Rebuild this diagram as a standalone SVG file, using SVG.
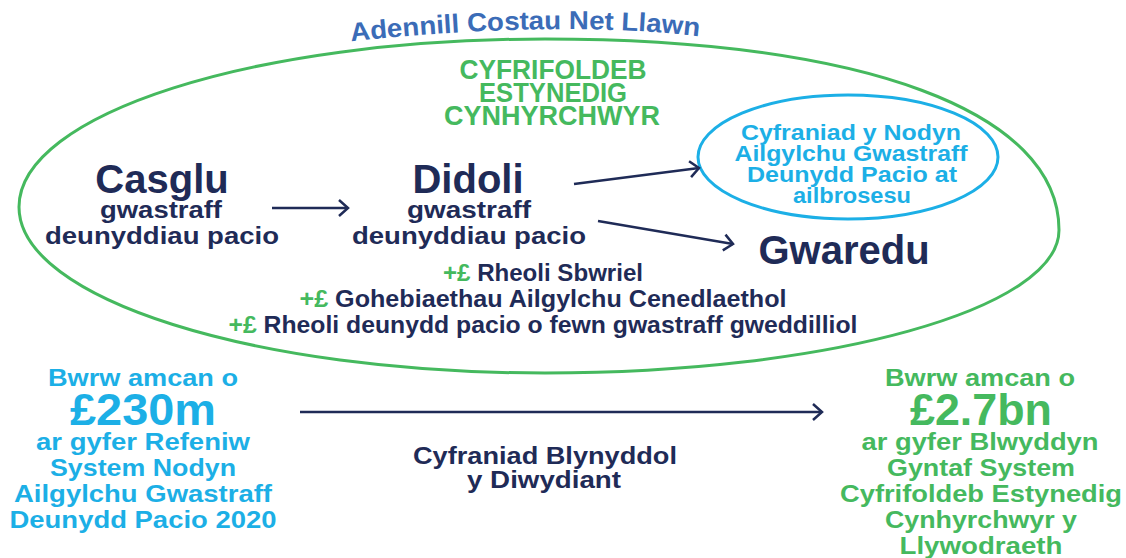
<svg xmlns="http://www.w3.org/2000/svg" width="1126" height="558" viewBox="0 0 1126 558">
<style>
text{font-family:"Liberation Sans",Arial,sans-serif;font-weight:bold;text-anchor:middle}
.navy{fill:#1f2b57}
.green{fill:#45b95e}
.blue{fill:#1cafe6}
.title{fill:#3b6cb7}
.conn{stroke:#1f2b57;stroke-width:2.5;fill:none}
</style>
<defs>
<marker id="chev" markerUnits="userSpaceOnUse" markerWidth="14" markerHeight="20" viewBox="0 0 14 20" refX="11" refY="10" orient="auto">
<path d="M2,2 L11,10 L2,18" fill="none" stroke="#1f2b57" stroke-width="2.5"/>
</marker>
<path id="arc" d="M 345 42 Q 560 19 705 37"/>
</defs>
<g id="outer">
<path d="M19,207 C19,114 254,39 545,39 C864,39 1059,112 1059,230 C1059,309 829,373 545,373 C254,373 19,299 19,207 Z" fill="none" stroke="#45b95e" stroke-width="3"/>
<text class="title" font-size="26"><textPath href="#arc" startOffset="50%" textLength="349" lengthAdjust="spacingAndGlyphs">Adennill Costau Net Llawn</textPath></text>
<text class="green" font-size="27" x="553" y="79" textLength="187" lengthAdjust="spacingAndGlyphs">CYFRIFOLDEB</text>
<text class="green" font-size="27" x="553" y="102" textLength="148" lengthAdjust="spacingAndGlyphs">ESTYNEDIG</text>
<text class="green" font-size="27" x="552" y="125" textLength="216" lengthAdjust="spacingAndGlyphs">CYNHYRCHWYR</text>
</g>
<g id="casglu">
<text class="navy" font-size="40" x="162" y="193">Casglu</text>
<text class="navy" font-size="24" x="161" y="218" textLength="122" lengthAdjust="spacingAndGlyphs">gwastraff</text>
<text class="navy" font-size="24" x="162" y="244" textLength="234" lengthAdjust="spacingAndGlyphs">deunyddiau pacio</text>
</g>
<g id="didoli">
<text class="navy" font-size="40" x="468" y="193">Didoli</text>
<text class="navy" font-size="24" x="469" y="218" textLength="124" lengthAdjust="spacingAndGlyphs">gwastraff</text>
<text class="navy" font-size="24" x="469" y="244" textLength="234" lengthAdjust="spacingAndGlyphs">deunyddiau pacio</text>
</g>
<g id="nodyn">
<ellipse cx="848" cy="157" rx="150" ry="62" fill="none" stroke="#1cafe6" stroke-width="3"/>
<text class="blue" font-size="21.5" x="851" y="140" textLength="220" lengthAdjust="spacingAndGlyphs">Cyfraniad y Nodyn</text>
<text class="blue" font-size="21.5" x="851" y="161" textLength="233" lengthAdjust="spacingAndGlyphs">Ailgylchu Gwastraff</text>
<text class="blue" font-size="21.5" x="852" y="182" textLength="210" lengthAdjust="spacingAndGlyphs">Deunydd Pacio at</text>
<text class="blue" font-size="21.5" x="852" y="203" textLength="118" lengthAdjust="spacingAndGlyphs">ailbrosesu</text>
</g>
<g id="gwaredu">
<text class="navy" font-size="40" x="844" y="264">Gwaredu</text>
</g>
<g id="costs">
<text class="navy" font-size="23.5" x="543" y="281" textLength="200" lengthAdjust="spacingAndGlyphs"><tspan class="green">+£</tspan> Rheoli Sbwriel</text>
<text class="navy" font-size="23.5" x="543" y="307" textLength="487" lengthAdjust="spacingAndGlyphs"><tspan class="green">+£</tspan> Gohebiaethau Ailgylchu Cenedlaethol</text>
<text class="navy" font-size="23.5" x="543" y="333" textLength="629" lengthAdjust="spacingAndGlyphs"><tspan class="green">+£</tspan> Rheoli deunydd pacio o fewn gwastraff gweddilliol</text>
</g>
<g id="left">
<text class="blue" font-size="24" x="143" y="386" textLength="190" lengthAdjust="spacingAndGlyphs">Bwrw amcan o</text>
<text class="blue" font-size="44" x="143" y="425" textLength="146" lengthAdjust="spacingAndGlyphs">£230m</text>
<text class="blue" font-size="24" x="143" y="450" textLength="214" lengthAdjust="spacingAndGlyphs">ar gyfer Refeniw</text>
<text class="blue" font-size="24" x="143" y="476" textLength="186" lengthAdjust="spacingAndGlyphs">System Nodyn</text>
<text class="blue" font-size="24" x="143" y="502" textLength="258" lengthAdjust="spacingAndGlyphs">Ailgylchu Gwastraff</text>
<text class="blue" font-size="24" x="143" y="528" textLength="267" lengthAdjust="spacingAndGlyphs">Deunydd Pacio 2020</text>
</g>
<g id="middle">
<text class="navy" font-size="24" x="545" y="464" textLength="264" lengthAdjust="spacingAndGlyphs">Cyfraniad Blynyddol</text>
<text class="navy" font-size="24" x="544" y="488" textLength="154" lengthAdjust="spacingAndGlyphs">y Diwydiant</text>
</g>
<g id="right">
<text class="green" font-size="24" x="980" y="386" textLength="190" lengthAdjust="spacingAndGlyphs">Bwrw amcan o</text>
<text class="green" font-size="44" x="981" y="425" textLength="142" lengthAdjust="spacingAndGlyphs">£2.7bn</text>
<text class="green" font-size="24" x="980" y="450" textLength="237" lengthAdjust="spacingAndGlyphs">ar gyfer Blwyddyn</text>
<text class="green" font-size="24" x="981" y="476" textLength="188" lengthAdjust="spacingAndGlyphs">Gyntaf System</text>
<text class="green" font-size="24" x="981" y="502" textLength="282" lengthAdjust="spacingAndGlyphs">Cyfrifoldeb Estynedig</text>
<text class="green" font-size="24" x="981" y="528" textLength="192" lengthAdjust="spacingAndGlyphs">Cynhyrchwyr y</text>
<text class="green" font-size="24" x="981" y="554" textLength="163" lengthAdjust="spacingAndGlyphs">Llywodraeth</text>
</g>
<g id="connectors">
<line class="conn" x1="272" y1="208" x2="348" y2="208" marker-end="url(#chev)"/>
<line class="conn" x1="574" y1="184" x2="699" y2="168" marker-end="url(#chev)"/>
<line class="conn" x1="598" y1="221" x2="733" y2="244" marker-end="url(#chev)"/>
<line class="conn" x1="300" y1="412" x2="822" y2="412" marker-end="url(#chev)"/>
</g>
</svg>
